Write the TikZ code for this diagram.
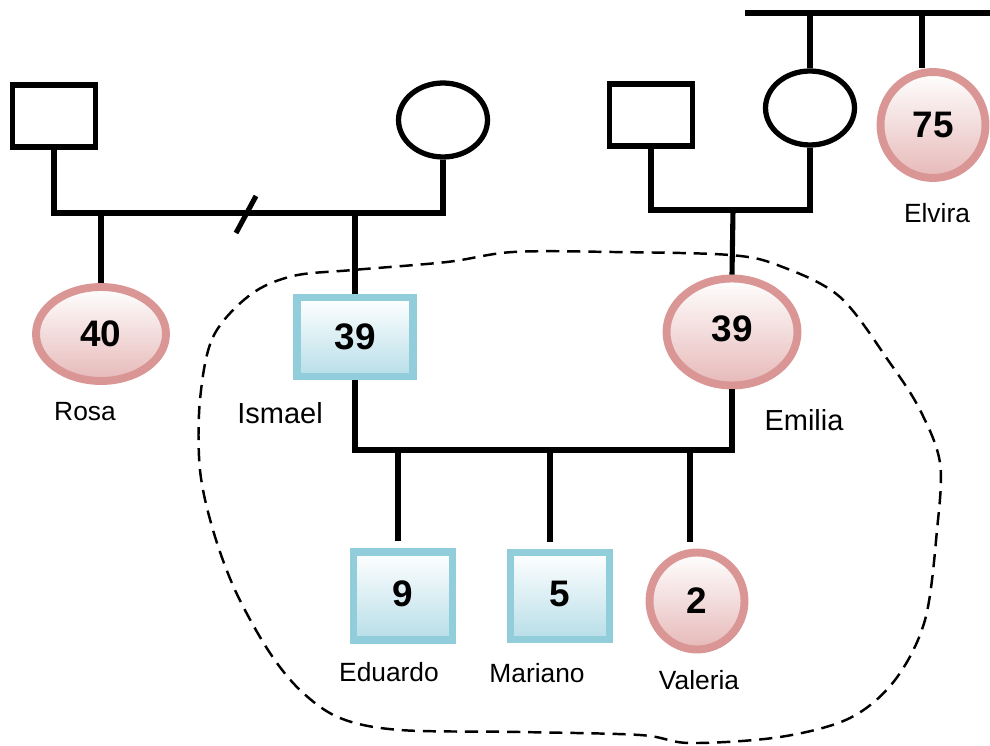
\documentclass[tikz,border=0pt]{standalone}
\usepackage{fontspec}
\setmainfont{Liberation Sans}
\usetikzlibrary{
    shapes.geometric,
    shadows
}
\definecolor{hombreborde}{HTML}{92CDDC}
\definecolor{hombrefondo}{HTML}{B7DEE8}
\definecolor{mujerborde}{HTML}{D99694}
\definecolor{mujerfondo}{HTML}{E6B9B8}
\tikzset{
    linea/.style={line width=2.9pt},
    padre/.style={
        draw, rectangle, line width=3pt,
        minimum width=1.66cm, minimum height=1.24cm
    },
    madre/.style={
        draw, ellipse, line width=3pt,
        minimum width=1.78cm, minimum height=1.48cm
    },
    edad/.style={
        font=\fontsize{21}{25}\selectfont\bfseries,
        inner sep=0pt, line width=4.5pt,
        drop shadow={shadow xshift=1.5pt, shadow yshift=-1.5pt,
            fill=black!40, opacity=1}
    },
    varon/.style={
        edad, rectangle, draw=hombreborde,
        top color=white, bottom color=hombrefondo
    },
    mujer/.style={
        edad, ellipse, draw=mujerborde,
        top color=white, bottom color=mujerfondo
    },
    nombre/.style={font=\fontsize{15}{18}\selectfont},
    grande/.style={font=\fontsize{16.5}{20}\selectfont},
    contorno/.style={dash pattern=on 7.5pt off 4.5pt, line width=1.4pt}
}

\begin{document}
\begin{tikzpicture}[x=0.02cm, y=-0.02cm]

    \useasboundingbox (0,0) rectangle (990,746);

    % Nucleo familiar
    \draw[contorno] plot[smooth cycle, tension=0.55] coordinates {
        (200,400) (213,337) (250,295) (293,276) (353,270) (447,262)
        (513,252) (613,252) (730,255) (780,266) (840,297) (890,363)
        (920,410) (940,463) (937,530) (925,620) (895,680) (850,718)
        (780,737) (690,743) (640,735) (520,732) (400,730) (340,718)
        (300,690) (268,650) (235,590) (213,530) (200,470)};

    % Abuelos
    \node[padre] (abueloI) at (54,116)  {};
    \node[madre] (abuelaI) at (443,120) {};
    \node[padre] (abueloE) at (651,115) {};
    \node[madre] (abuelaE) at (810,108) {};
    \node[mujer, minimum width=2.1cm, minimum height=2.12cm]
        (elvira) at (933,125) {75};

    % Padres
    \node[mujer, minimum width=2.6cm, minimum height=1.88cm]
        (rosa) at (101,334) {40};
    \node[varon, minimum width=2.32cm, minimum height=1.58cm]
        (ismael) at (355,337) {39};
    \node[mujer, minimum width=2.62cm, minimum height=2.14cm]
        (emilia) at (732,332) {\raisebox{4pt}{39}};

    % Hijos
    \node[varon, minimum width=1.98cm, minimum height=1.76cm]
        (eduardo) at (403,596) {\raisebox{3pt}{9}};
    \node[varon, minimum width=1.98cm, minimum height=1.74cm]
        (mariano) at (560,596) {\raisebox{2pt}{5}};
    \node[mujer, minimum width=1.9cm, minimum height=1.94cm]
        (valeria) at (697,601) {2};

    % Nombres
    \node[nombre] (nRosa)    at (85,412)  {Rosa};
    \node[grande] (nIsmael)  at (280,413) {Ismael};
    \node[grande] (nEmilia)  at (804,420) {Emilia};
    \node[nombre] (nElvira)  at (937,213) {Elvira};
    \node[nombre] (nEduardo) at (389,672) {Eduardo};
    \node[nombre] (nMariano) at (537,673) {Mariano};
    \node[nombre] (nValeria) at (699,680) {Valeria};

    % Uniones
    \coordinate (uI) at (246,213);
    \coordinate (uE) at (733,210);
    \coordinate (uH) at (545,450);
    \coordinate (ti) at (745,13);
    \coordinate (td) at (990,13);
    \coordinate (tE) at (922,13);
    \coordinate (hEd) at (398,450);
    \coordinate (hMa) at (550,450);
    \coordinate (hVa) at (690,450);

    \draw[linea] (abueloI.south) |- (uI) -| (abuelaI.south);
    \draw[linea] (uI) ++(-10,20) -- ++(20,-37);
    \draw[linea] (uI -| rosa.north) -- (rosa.north);
    \draw[linea] (uI -| ismael.north) -- (ismael.north);

    \draw[linea] (abueloE.south) |- (uE) -| (abuelaE.south);
    \draw[linea] (uE) -- (emilia.north);

    \draw[linea] (ti) -- (td);
    \draw[linea] (ti -| abuelaE.north) -- (abuelaE.north);
    \draw[linea] (tE) -- (tE |- elvira.north);

    \draw[linea] (ismael.south) |- (uH) -| (emilia.south);
    \draw[linea, shorten >=4pt] (hEd) -- (hEd |- eduardo.north);
    \draw[linea, shorten >=4pt] (hMa) -- (hMa |- mariano.north);
    \draw[linea, shorten >=4pt] (hVa) -- (hVa |- valeria.north);

\end{tikzpicture}
\end{document}
